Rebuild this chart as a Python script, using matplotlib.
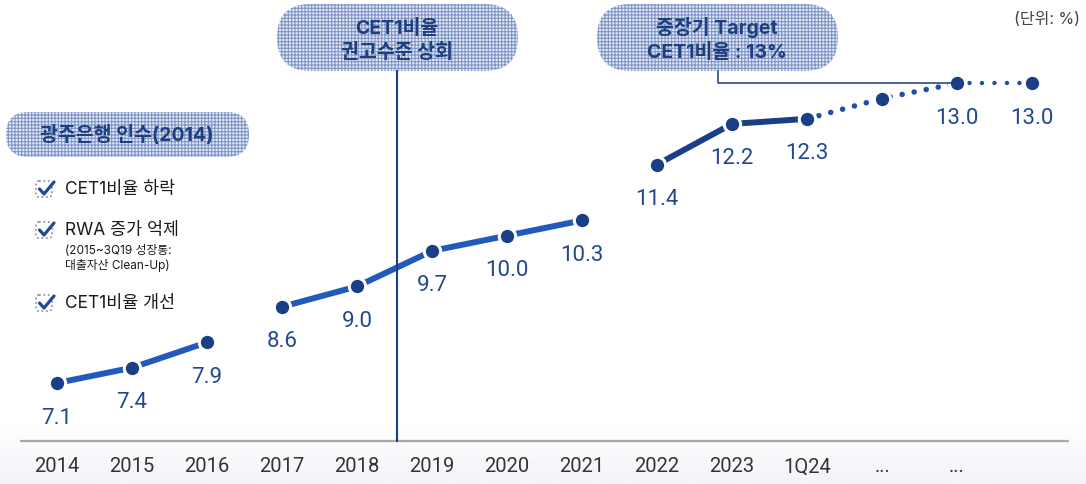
import numpy as np
import matplotlib.pyplot as plt
from matplotlib.patches import FancyBboxPatch
from matplotlib.colors import LinearSegmentedColormap

plt.rcParams['font.family'] = ['Roboto', 'Noto Sans CJK KR', 'DejaVu Sans']
plt.rcParams['hatch.linewidth'] = 0.8

# data
periods = ['2014', '2015', '2016', '2017', '2018', '2019', '2020', '2021',
           '2022', '2023', '1Q24', '...', '...', '']
cet1 = [7.1, 7.4, 7.9, 8.6, 9.0, 9.7, 10.0, 10.3, 11.4, 12.2, 12.3, 12.7, 13.0, 13.0]
value_text = ['7.1', '7.4', '7.9', '8.6', '9.0', '9.7', '10.0', '10.3',
              '11.4', '12.2', '12.3', '', '13.0', '13.0']
# segments: (first index, last index, style)
segments = [(0, 2, 'light'), (3, 7, 'light'), (8, 10, 'dark'), (10, 12, 'dots'), (12, 13, 'small_dots')]
checks = ['CET1비율 하락', 'RWA 증가 억제', 'CET1비율 개선']
check_note = ['(2015~3Q19 성장통:', '대출자산 Clean-Up)']

NAVY = '#1b3f86'
BLUE = '#2259bd'
W, H = 1086, 485

fig = plt.figure(figsize=(W / 100, H / 100), dpi=100)

# background band at the bottom
bg = fig.add_axes([0, 0, 1, 1], zorder=0)
cmap = LinearSegmentedColormap.from_list('band', ['#ffffff', '#f2f4f8'])
bg.imshow(np.linspace(0, 1, 60).reshape(-1, 1), extent=(0, W, H, 425), cmap=cmap, aspect='auto')
bg.set_xlim(0, W)
bg.set_ylim(H, 0)
bg.axis('off')

# main chart
ax = fig.add_axes([0, (H - 442) / H, 1, 442 / H], zorder=1)
ax.patch.set_alpha(0)
x = np.arange(len(cet1))
ax.set_xlim(-57 / 75, (W - 57) / 75)
ax.set_ylim(5.958, 14.659)
for s in ax.spines.values():
    s.set_visible(False)
ax.set_yticks([])
ax.set_xticks(x, periods, fontsize=14.5, color='#333333')
ax.tick_params(axis='x', length=0, pad=11)

for a, b, style in segments:
    xs, ys = x[a:b + 1], cet1[a:b + 1]
    if style == 'light':
        ax.plot(xs, ys, color=BLUE, lw=4.3, solid_capstyle='butt', zorder=2)
    elif style == 'dark':
        ax.plot(xs, ys, color=NAVY, lw=4.3, solid_capstyle='butt', zorder=2)
    elif style == 'dots':
        ax.plot(xs, ys, color='#1f4fa8', lw=4.0, linestyle=(0, (0.01, 2.2)),
                dash_capstyle='round', zorder=2)
    else:
        ax.plot(xs, ys, color='#1f4fa8', lw=3.2, linestyle=(0, (0.01, 2.8)),
                dash_capstyle='round', zorder=2)

ax.plot(x, cet1, linestyle='none', marker='o', ms=11.8, mfc=NAVY, mec='white', mew=2.2, zorder=3)

for xi, yi, t in zip(x, cet1, value_text):
    if t:
        ax.annotate(t, (xi, yi), xytext=(0, -24.5), textcoords='offset points',
                    ha='center', va='center', fontsize=16, color='#23488e')

# decorations in pixel coordinates
deco = fig.add_axes([0, 0, 1, 1], zorder=2)
deco.patch.set_alpha(0)
deco.set_xlim(0, W)
deco.set_ylim(H, 0)
deco.axis('off')

deco.plot([20, 1069], [442, 442], color='#a8a8a8', lw=1.6, solid_capstyle='butt')
deco.plot([397, 397], [72, 442], color=NAVY, lw=1.5)
deco.plot([718, 718, 950], [72, 84, 84], color='#2b4a88', lw=1.2)


def pill(x0, y0, w, h):
    p = FancyBboxPatch((x0, y0), w, h, boxstyle=f'round,pad=0,rounding_size={h / 2}',
                       facecolor='#e4e9f4', edgecolor='#8096c8', hatch='+++++', lw=0)
    deco.add_patch(p)


pill(277, 5, 241, 67)
pill(597, 5, 241, 67)
pill(6, 113, 243, 45)

kw = dict(ha='center', va='center', fontweight='bold', color='#1e3f7d',
          family=['Inter', 'Noto Sans CJK KR'])
deco.text(397, 28, 'CET1비율', fontsize=14, **kw)
deco.text(397, 52, '권고수준 상회', fontsize=14, **kw)
deco.text(717, 28, '중장기 Target', fontsize=14, **kw)
deco.text(717, 53, 'CET1비율 : 13%', fontsize=14, **kw)
deco.text(127, 135, '광주은행 인수(2014)', fontsize=14, **kw)

deco.text(1080, 20, '(단위: %)', ha='right', va='center', fontsize=11.5, color='#444444',
          family=['Inter', 'Noto Sans CJK KR'])

for label, cy in zip(checks, [190, 231, 304]):
    box = FancyBboxPatch((36, cy - 8), 16, 16, boxstyle='round,pad=0,rounding_size=3',
                         facecolor='white', edgecolor='#8a8a8a', lw=1.2, linestyle=':')
    deco.add_patch(box)
    deco.plot([39.5, 44, 54], [cy, cy + 5, cy - 7], color='#1f4a96', lw=2.3,
              solid_capstyle='round', solid_joinstyle='round')
    deco.text(65, cy, label, ha='left', va='center', fontsize=12.5, color='#1a1a1a',
              family=['Inter', 'Noto Sans CJK KR'])

for line, cy in zip(check_note, [251, 266]):
    deco.text(65, cy, line, ha='left', va='center', fontsize=8.5, color='#1a1a1a',
              family=['Inter', 'Noto Sans CJK KR'])

fig.savefig('out.png', dpi=100)
